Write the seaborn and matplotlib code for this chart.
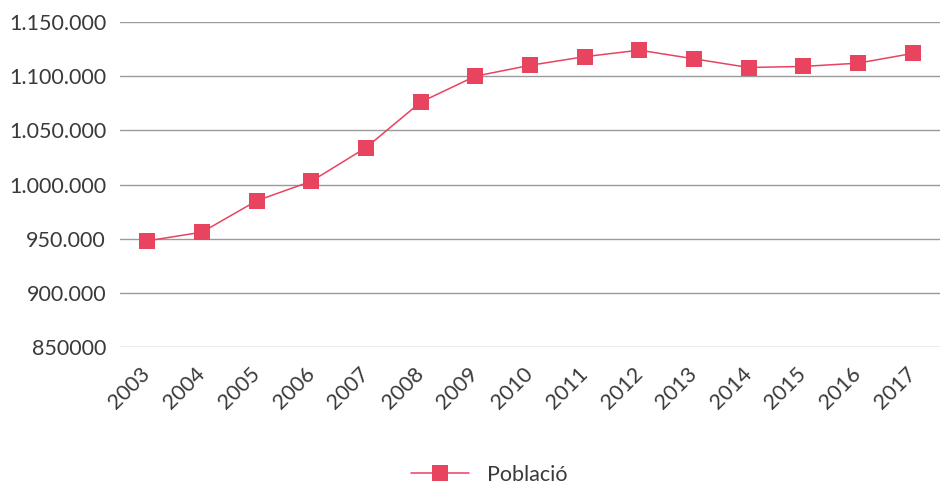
import pandas as pd
import matplotlib
matplotlib.use("Agg")
import matplotlib.pyplot as plt
import seaborn as sns

# Population per year
years = ["2003", "2004", "2005", "2006", "2007", "2008", "2009", "2010",
         "2011", "2012", "2013", "2014", "2015", "2016", "2017"]
poblacio = [948000, 956000, 985000, 1003000, 1034000, 1076000, 1100000, 1110000,
            1118000, 1124000, 1116000, 1108000, 1109000, 1112000, 1121000]
y_ticks = [850000, 900000, 950000, 1000000, 1050000, 1100000, 1150000]
y_tick_labels = ["850000", "900.000", "950.000", "1.000.000", "1.050.000",
                 "1.100.000", "1.150.000"]

df = pd.DataFrame({"year": years, "Població": poblacio})

sns.set_style("white")
plt.rcParams["font.family"] = ["Lato", "DejaVu Sans"]

fig = plt.figure(figsize=(9.4, 4.86), dpi=100)
ax = fig.add_axes([120 / 940, (486 - 347) / 486, 820 / 940, 325 / 486])

red = "#e8435f"
sns.lineplot(data=df, x="year", y="Població", ax=ax, color=red, marker="s",
             markersize=11.5, markeredgewidth=0, linewidth=1.1, label="Població",
             sort=False)

ax.set_xlim(-0.5, len(years) - 0.5)
ax.set_ylim(850000, 1150000)
ax.set_yticks(y_ticks)
ax.set_yticklabels(y_tick_labels)
ax.yaxis.grid(True, color="#9a9a9a", linewidth=1)
ax.set_axisbelow(True)
for s in ax.spines.values():
    s.set_visible(False)
ax.tick_params(axis="both", length=0, labelsize=15.5, colors="#3a3a3a", pad=10)
ax.tick_params(axis="x", pad=17)
for lbl in ax.get_xticklabels():
    lbl.set_rotation(45)
    lbl.set_ha("right")
    lbl.set_va("center")
    lbl.set_rotation_mode("anchor")
ax.set_xlabel("")
ax.set_ylabel("")

ax.get_legend().remove()
handles, labels = ax.get_legend_handles_labels()
fig.legend(handles, labels, loc="center", bbox_to_anchor=(489 / 940, 1 - 475 / 486),
           frameon=False, fontsize=15.5, handlelength=2.7, handletextpad=0.85,
           labelcolor="#3a3a3a")

fig.savefig("out.png", dpi=100)
